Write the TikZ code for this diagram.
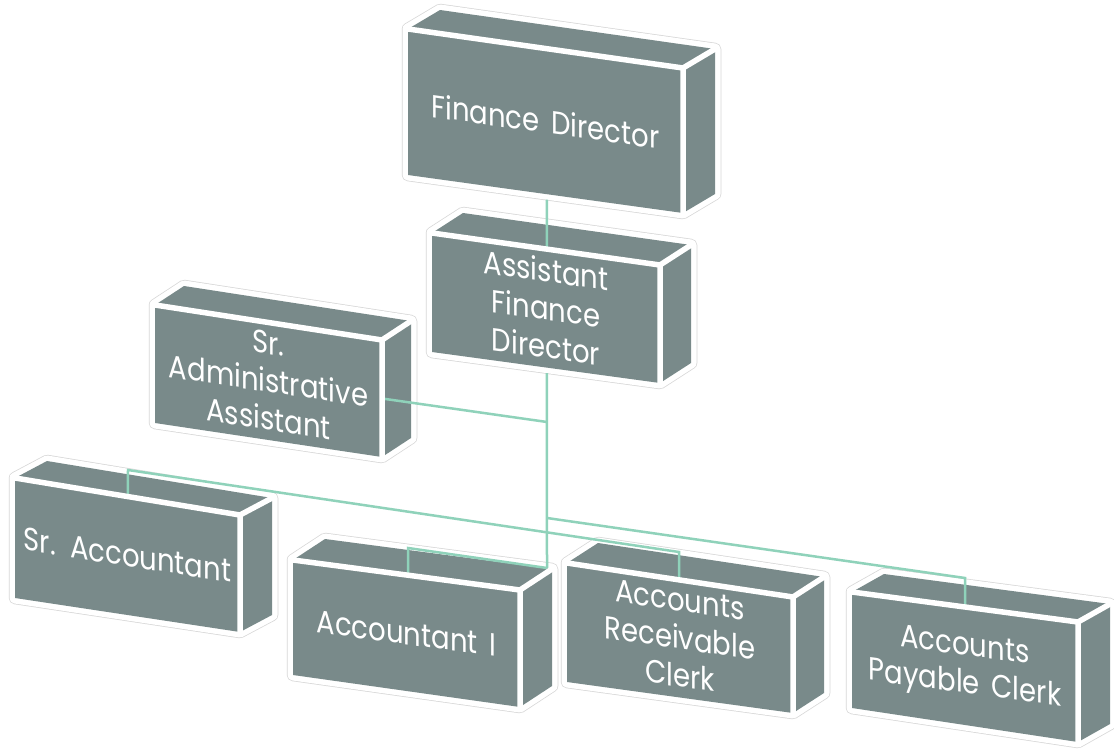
\documentclass[tikz,border=0pt]{standalone}
\usepackage{fontspec}
\setmainfont{Poppins}[FakeStretch=0.86,WordSpace=1.6]
\usetikzlibrary{calc}
\definecolor{boxfill}{RGB}{121,138,138}
\definecolor{connc}{RGB}{143,210,186}
\definecolor{haloc}{RGB}{215,215,215}
\tikzset{
  halo/.style={draw=haloc,line width=12.5pt,line join=round},
  halowhite/.style={draw=white,line width=11pt,line join=round},
  face/.style={fill=boxfill},
  edgeline/.style={draw=white,line width=5.5pt,line cap=round,line join=round},
  conn/.style={draw=connc,line width=2.5pt},
  lbl/.style={text=white,align=center,inner sep=0pt,font=\fontsize{32}{38}\selectfont}
}
% #1 name, #2 front top-left, #3 front top-right, #4 front bottom-right, #5 front bottom-left, #6 depth vector
\newcommand\boxcoords[6]{%
  \coordinate (#1-ftl) at #2;
  \coordinate (#1-ftr) at #3;
  \coordinate (#1-fbr) at #4;
  \coordinate (#1-fbl) at #5;
  \coordinate (#1-btl) at ($(#1-ftl)+#6$);
  \coordinate (#1-btr) at ($(#1-ftr)+#6$);
  \coordinate (#1-bbr) at ($(#1-fbr)+#6$);
}
\newcommand\boxhalo[1]{%
  \path[halo] (#1-ftl) -- (#1-btl) -- (#1-btr) -- (#1-bbr) -- (#1-fbr) -- (#1-fbl) -- cycle;
  \path[halowhite] (#1-ftl) -- (#1-btl) -- (#1-btr) -- (#1-bbr) -- (#1-fbr) -- (#1-fbl) -- cycle;
}
\newcommand\boxfaces[1]{%
  \path[face] (#1-ftl) -- (#1-btl) -- (#1-btr) -- (#1-bbr) -- (#1-fbr) -- (#1-fbl) -- cycle;
}
\newcommand\boxedges[1]{%
  \path[edgeline] (#1-ftl) -- (#1-ftr) -- (#1-fbr) (#1-ftr) -- (#1-btr);
}
\begin{document}
\begin{tikzpicture}[x=1pt,y=-1pt]
\useasboundingbox (0,0) rectangle (1114,750);
\fill[white] (0,0) rectangle (1114,750);

\boxcoords{fd}{(408,29)}{(683,68)}{(683,213)}{(408,175)}{(32,-19)}
\boxcoords{afd}{(432,233)}{(660,265)}{(660,383)}{(432,352)}{(31,-20)}
\boxcoords{saa}{(155,305)}{(382,340)}{(382,457)}{(155,423)}{(29,-19)}
\boxcoords{sa}{(15,478)}{(240,515)}{(240,632)}{(15,598)}{(32,-17)}
\boxcoords{aone}{(293,560)}{(520,590)}{(520,707)}{(293,675)}{(32,-21)}
\boxcoords{ar}{(567,563)}{(793,597)}{(793,713)}{(567,682)}{(31,-20)}
\boxcoords{ap}{(852,592)}{(1078,622)}{(1078,742)}{(852,708)}{(32,-18)}

\foreach \b in {fd,afd,saa,sa,aone,ar,ap}{\boxhalo{\b}}
\foreach \b in {fd,afd,saa,sa,aone,ar,ap}{\boxfaces{\b}}

% connector end points
\coordinate (fd-bot) at ($(fd-fbl)!0.505!(fd-fbr)+(0,5.5)$);
\coordinate (afd-top) at ($(afd-ftl)!0.504!(afd-ftr)$);
\coordinate (afd-bot) at ($(afd-fbl)!0.504!(afd-fbr)+(0,5.5)$);
\coordinate (hub) at (547,568);
\coordinate (saa-r) at ($(saa-ftr)!0.5!(saa-fbr)$);
\coordinate (jsaa) at (547,422);
\coordinate (jap) at (547,518);
\coordinate (sa-up) at (128,470);
\coordinate (sa-top) at ($(sa-ftl)!0.502!(sa-ftr)$);
\coordinate (ar-up) at (679,552);
\coordinate (ar-top) at ($(ar-ftl)!0.496!(ar-ftr)$);
\coordinate (ap-up) at (965,578);
\coordinate (ap-top) at ($(ap-ftl)!0.5!(ap-ftr)$);
\coordinate (aone-up) at (408,548);
\coordinate (aone-top) at ($(aone-ftl)!0.507!(aone-ftr)$);

\draw[conn] (fd-bot) -- (afd-top);
\draw[conn] (afd-bot) -- (hub);
\draw[conn] (saa-r) -- (jsaa);
\draw[conn] (sa-top) -- (sa-up) -- (ar-up) -- (ar-top);
\draw[conn] (jap) -- (ap-up) -- (ap-top);
\draw[conn] (hub) -- (aone-up) -- (aone-top);

\foreach \b in {fd,afd,saa,sa,aone,ar,ap}{\boxedges{\b}}

\node[lbl,yslant=-0.14] (fd) at ($(fd-ftl)!0.5!(fd-fbr)$) {Finance Director};
\node[lbl,yslant=-0.138] (afd) at ($(afd-ftl)!0.5!(afd-fbr)$) {Assistant\\Finance\\Director};
\node[lbl,yslant=-0.152] (saa) at ($(saa-ftl)!0.5!(saa-fbr)$) {Sr.\\Administrative\\Assistant};
\node[lbl,yslant=-0.157] (sa) at ($(sa-ftl)!0.5!(sa-fbr)$) {Sr. Accountant};
\node[lbl,yslant=-0.137] (aone) at ($(aone-ftl)!0.5!(aone-fbr)$) {Accountant I};
\node[lbl,yslant=-0.144] (ar) at ($(ar-ftl)!0.5!(ar-fbr)$) {Accounts\\Receivable\\Clerk};
\node[lbl,yslant=-0.135] (ap) at ($(ap-ftl)!0.5!(ap-fbr)$) {Accounts\\Payable Clerk};
\end{tikzpicture}
\end{document}
